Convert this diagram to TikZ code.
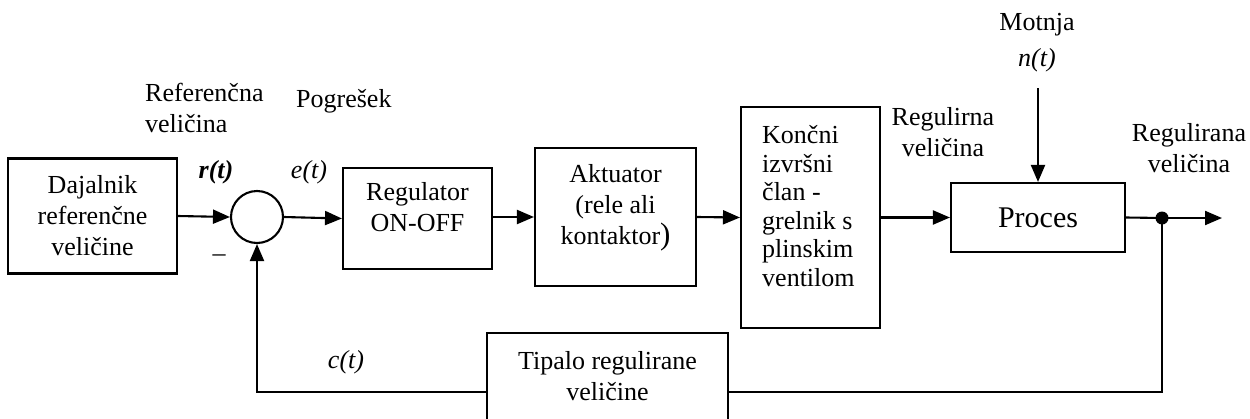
\documentclass[tikz,border=0pt]{standalone}
\usepackage{fontspec}
\setmainfont{Liberation Serif}
\usetikzlibrary{arrows.meta}
\begin{document}
\begin{tikzpicture}[x=1pt,y=-1pt,
  lw/.style={line width=2.1pt},
  blk/.style={draw,lw,inner sep=0pt,rectangle},
  txt/.style={inner sep=0pt,align=center,font=\fontsize{26}{31}\selectfont},
  sig/.style={lw,-{Triangle[length=17pt,width=14pt]}},
  wire/.style={lw}]
\useasboundingbox (0,0) rectangle (1250,418);
\clip (0,0) rectangle (1250,418);

% blocks of the loop
\node[blk,minimum width=169,minimum height=115,txt] (daj) at (92.5,216)
  {Dajalnik\\referenčne\\veličine};
\node[circle,draw,lw,minimum size=52,inner sep=0pt] (sum) at (257,217) {};
\node[blk,minimum width=149,minimum height=101] (reg) at (417.5,218.5) {};
\node[txt] (regt) at (417.5,207) {Regulator\\ON-OFF};
\node[blk,minimum width=161,minimum height=138] (akt) at (615.5,217) {};
\node[txt] (aktt) at (615.5,208)
  {Aktuator\\(rele ali\\kontaktor{\fontsize{31}{31}\selectfont)}};
\node[blk,minimum width=139,minimum height=221] (kon) at (810.5,217.5) {};
\node[txt,align=left,anchor=west,font=\fontsize{26}{28.5}\selectfont] (kont) at (762,206)
  {Končni\\izvršni\\član -\\grelnik s\\plinskim\\ventilom};
\node[blk,minimum width=174,minimum height=69,font=\fontsize{30}{36}\selectfont] (proc) at (1038,217.5) {Proces};
\node[blk,minimum width=241,minimum height=118] (tip) at (607.5,392) {};
\node[txt] (tipt) at (607.5,376) {Tipalo regulirane\\veličine};

% labels
\node[txt] (motnja) at (1037,25) {Motnja};
\node[txt] (nt) at (1037,60) {\itshape n(t)};
\node[txt,align=left,anchor=west] (refv) at (145,108) {Referenčna\\veličina};
\node[txt,anchor=west] (pogr) at (296,101) {Pogrešek};
\node[txt] (rt) at (216,172) {\bfseries\itshape r(t)};
\node[txt] (et) at (309,172) {\itshape e(t)};
\node[txt] (minus) at (219,258) {–};
\node[txt] (regv) at (943,132) {Regulirna\\veličina};
\node[txt] (regav) at (1189,148) {Regulirana\\veličina};
\node[txt] (ct) at (346,362) {\itshape c(t)};

% connectors
\coordinate (mtop) at (1038,88);
\coordinate (branch) at (1162,218);
\coordinate (outp) at (1222,218);
\coordinate (fbr) at (1162,392);
\coordinate (fbl) at (257,392);

\draw[sig] (daj.east) -- (sum.west);
\draw[sig] (sum.east) -- (reg.west);
\draw[sig] (reg.east|-akt.west) -- (akt.west);
\draw[sig] (akt.east) -- (kon.west);
\draw[sig] (kon.east) -- (proc.west);
\draw[sig] (mtop) -- (proc.north);
\draw[wire] (proc.east) -- (branch);
\draw[sig] (branch) -- (outp);
\fill (branch) circle (6.5);
\draw[wire] (branch) -- (fbr) -- (tip.east);
\draw[sig] (tip.west) -- (fbl) -- (sum.south);
\end{tikzpicture}
\end{document}
